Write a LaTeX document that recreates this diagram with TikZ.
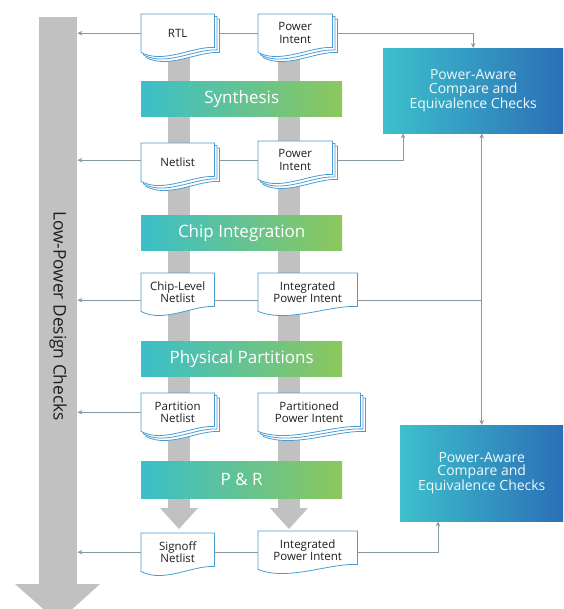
\documentclass[tikz,border=0pt]{standalone}
\usepackage{fontspec}
\setmainfont{Open Sans}
\usetikzlibrary{calc,backgrounds,arrows.meta}

\definecolor{shaftgray}{HTML}{C1C1C1}
\definecolor{docblue}{HTML}{4A9DD4}
\definecolor{conngray}{HTML}{8A98A2}
\definecolor{barteal}{HTML}{3BBFC9}
\definecolor{bargreen}{HTML}{8CC75C}
\definecolor{boxteal}{HTML}{3DC0CC}
\definecolor{boxblue}{HTML}{2B6FB7}
\definecolor{doctext}{HTML}{1E1E1E}

% outline of a document sheet, shifted by #2
\newcommand\docpath[2]{($(#1.north west)+(#2,#2)$) -- ($(#1.north east)+(#2,#2)$)
  -- ($(#1.south east)+(#2,#2-5)$)
  .. controls ($(#1.south west)!0.7!(#1.south east)+(#2,#2-6)$) and ($(#1.south west)!0.3!(#1.south east)+(#2,#2+12)$)
  .. ($(#1.south west)+(#2,#2)$) -- cycle}
\newcommand\docstack[1]{\draw[docline] \docpath{#1}{5}; \draw[docline] \docpath{#1}{2.5}; \draw[docline] \docpath{#1}{0};}
\newcommand\docsingle[1]{\draw[docline] \docpath{#1}{0};}

\begin{document}
\begin{tikzpicture}[x=1pt,y=-1pt,>={Stealth[length=5pt,width=4.5pt]}]
\tikzstyle{doc}=[rectangle, inner sep=1pt, minimum height=38, align=center, text=doctext, font=\fontsize{11.5}{12.6}\selectfont, anchor=north west]
\tikzstyle{docline}=[draw=docblue, fill=white, line width=0.8pt]
\tikzstyle{bar}=[rectangle, inner sep=0pt, minimum width=201, minimum height=35, left color=barteal, right color=bargreen, text=white, font=\fontsize{17}{20}\selectfont, anchor=north west]
\tikzstyle{checkbox}=[rectangle, inner sep=0pt, align=center, left color=boxteal, right color=boxblue, text=white!92!boxteal, font=\fontsize{14}{13.5}\selectfont, anchor=north west]
\tikzstyle{conn}=[draw=conngray, line width=0.9pt]

\useasboundingbox (0,0) rectangle (563,609);
\clip (0,0) rectangle (563,609);

% big arrow on the left
\node[fill=shaftgray, inner sep=0pt, minimum width=38, minimum height=567, anchor=north west] (ldc) at (39,17) {};
\fill[shaftgray] (15,584) -- (100,584) -- (58,622) -- cycle;
\node[rotate=-90, text=doctext, font=\fontsize{17.3}{20}\selectfont] (ldctext) at (58,316) {Low-Power Design Checks};

% documents
\node[doc, minimum width=73] (rtl) at (141,14) {RTL};
\node[doc, minimum width=74] (pi1) at (258,14) {Power\\Intent};
\node[doc, minimum width=73] (net) at (141,143) {Netlist};
\node[doc, minimum width=74] (pi2) at (258,141) {Power\\Intent};
\node[doc, minimum width=73] (chip) at (141,273) {Chip-Level\\Netlist};
\node[doc, minimum width=99] (ipi) at (258,273) {Integrated\\Power Intent};
\node[doc, minimum width=73] (part) at (141,393) {Partition\\Netlist};
\node[doc, minimum width=102] (ppi) at (258,393) {Partitioned\\Power Intent};
\node[doc, minimum width=73] (sign) at (141,533) {Signoff\\Netlist};
\node[doc, minimum width=99] (ipi2) at (258,531) {Integrated\\Power Intent};

% steps
\node[bar] (syn) at (141,81) {Synthesis};
\node[bar] (chipint) at (141,215) {Chip Integration};
\node[bar] (phys) at (141,341) {Physical Partitions};
\node[bar, minimum height=37] (pr) at (141,461) {P \& R};

% checks
\node[checkbox, minimum width=180, minimum height=85] (pa1) at (383,48) {Power-Aware\\Compare and\\Equivalence Checks};
\node[checkbox, minimum width=163, minimum height=96] (pa2) at (400,425) {Power-Aware\\Compare and\\Equivalence Checks};

% connectors
\draw[conn,->] (rtl.west) -- (rtl.west -| ldc.east);
\draw[conn] ([xshift=5pt]rtl.east) -- (pi1.west);
\draw[conn,->] ([xshift=5pt]pi1.east) -| (pa1.north);
\draw[conn,->] (net.west |- pi2.west) -- (pi2.west -| ldc.east);
\draw[conn] ([xshift=5pt]net.east |- pi2.west) -- (pi2.west);
\draw[conn,->] ([xshift=5pt]pi2.east) -| ([xshift=20pt]pa1.south west);
\draw[conn,->] ([yshift=-8pt]chip.west) -- ([yshift=-8pt]chip.west -| ldc.east);
\draw[conn] ([yshift=-8pt]chip.east) -- ([yshift=-8pt]ipi.west);
\draw[conn] ([yshift=-8pt]ipi.east) -- ([yshift=-8pt]ipi.east -| pa2.north);
\draw[conn,<->] (pa1.south -| pa2.north) -- (pa2.north);
\draw[conn,->] (part.west) -- (part.west -| ldc.east);
\draw[conn,->] (sign.west) -- (sign.west -| ldc.east);
\draw[conn] (sign.east) -- (sign.east -| ipi2.west);
\draw[conn,->] (ipi2.east |- sign.east) -| ([xshift=38pt]pa2.south west);

\begin{scope}[on background layer]
% flow shafts
\foreach \cx in {179,289} {
  \fill[shaftgray] (\cx-11,50) rectangle (\cx+11,508);
  \fill[shaftgray] (\cx-19,508) -- (\cx+19,508) -- (\cx,529) -- cycle;
}
\docstack{rtl}
\docstack{pi1}
\docstack{net}
\docstack{pi2}
\docsingle{chip}
\docsingle{ipi}
\docstack{part}
\docstack{ppi}
\docsingle{sign}
\docsingle{ipi2}
\end{scope}
\end{tikzpicture}
\end{document}
